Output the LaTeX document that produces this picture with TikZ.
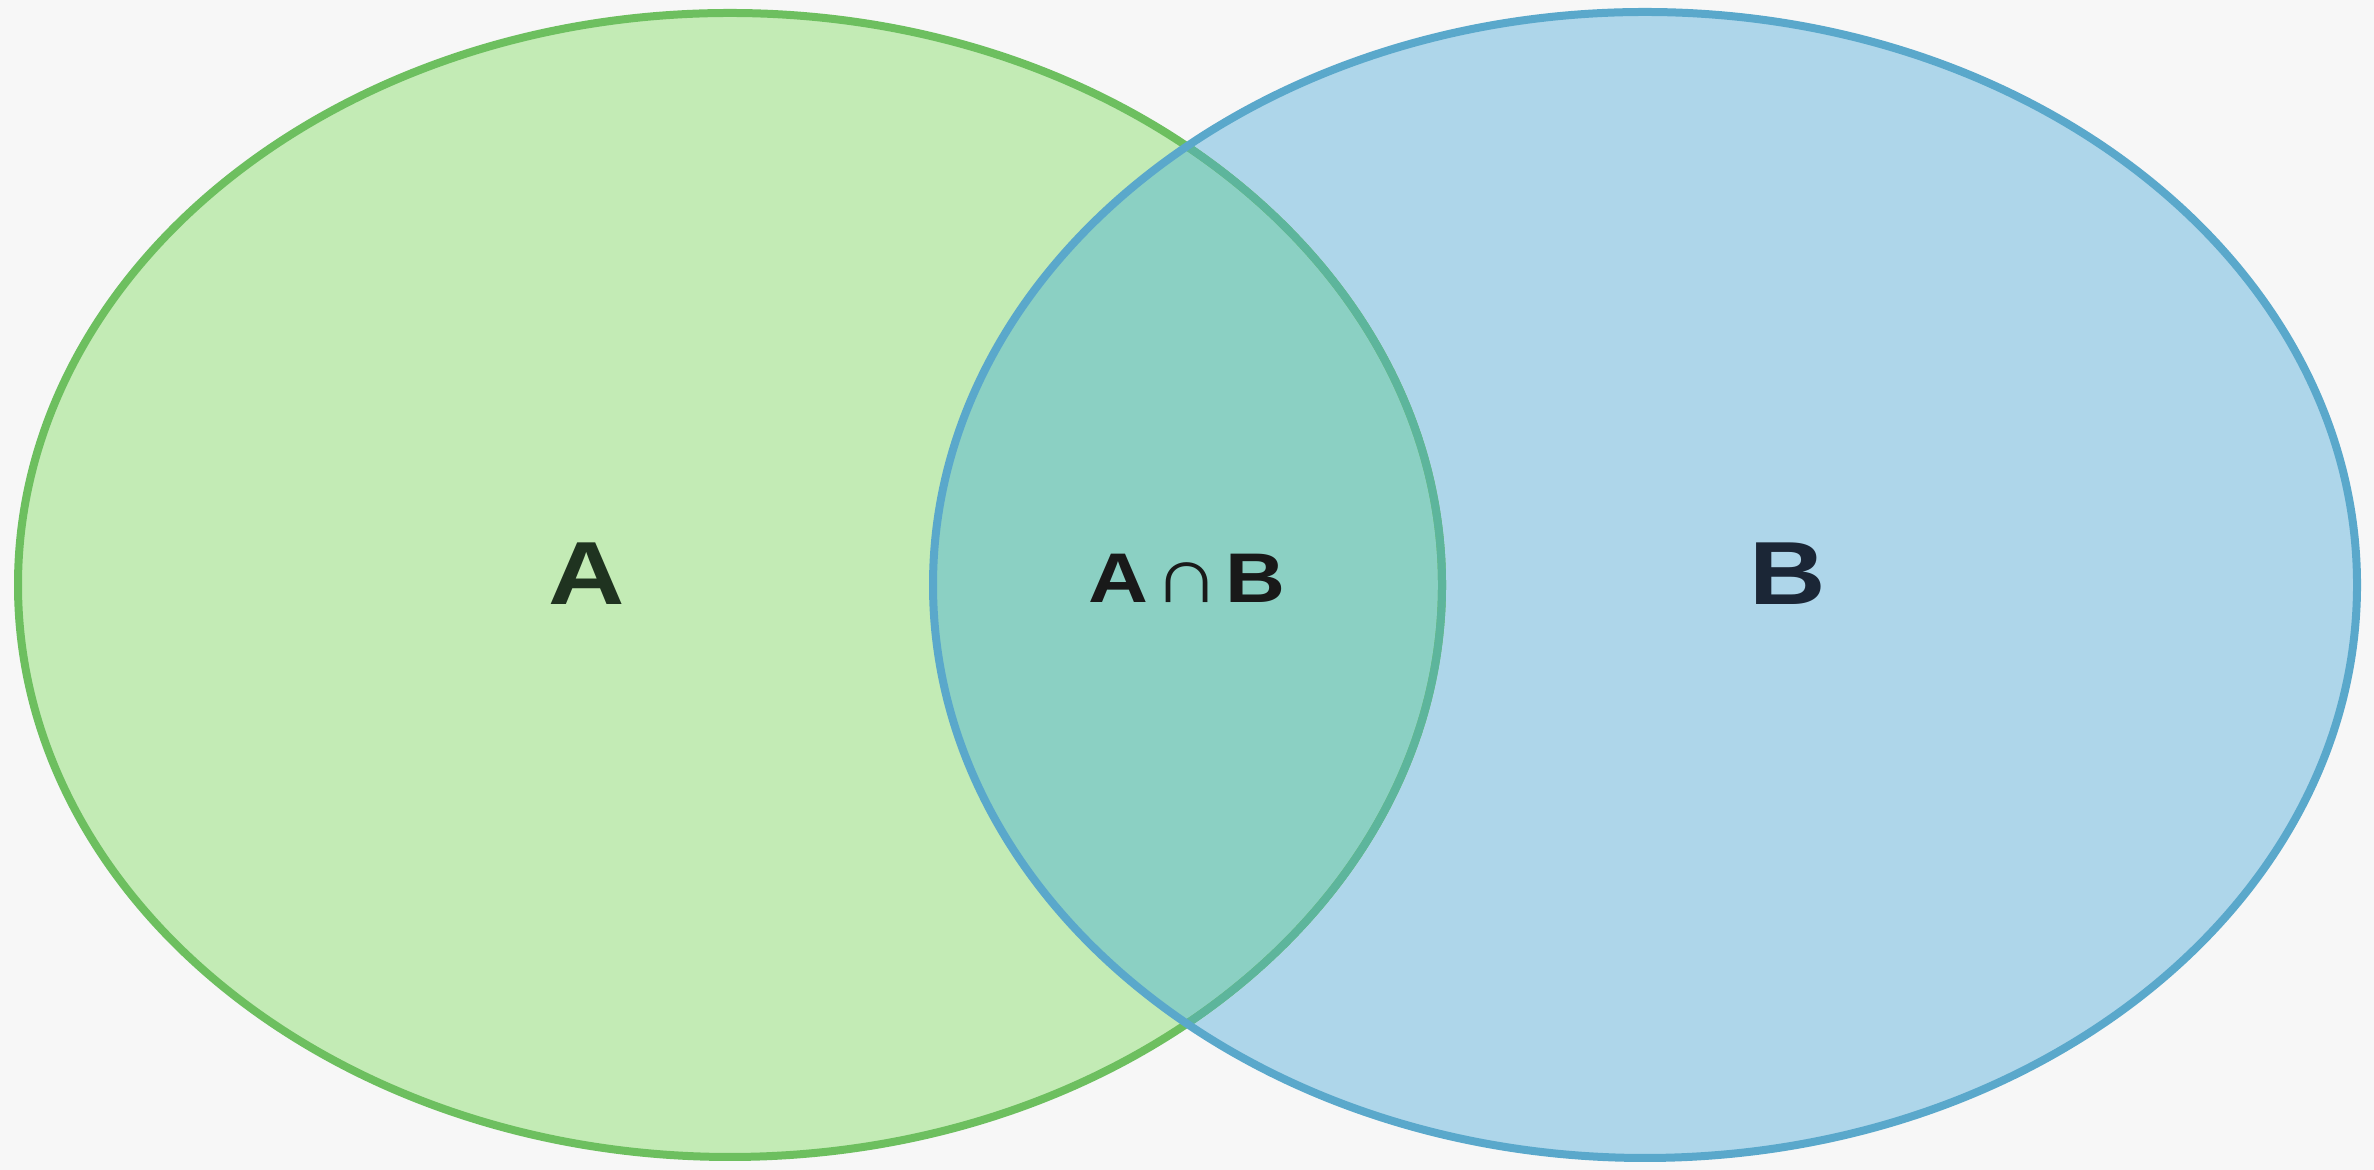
\documentclass[tikz,border=0pt]{standalone}
\usepackage{fontspec}
\setmainfont{Liberation Sans}
\usepackage{tikz}
\usetikzlibrary{positioning}

\definecolor{bgcol}{HTML}{F7F7F7}
\definecolor{setAfill}{HTML}{C3EBB5}
\definecolor{setAline}{HTML}{6DBF5F}
\definecolor{setBfill}{HTML}{AED6EA}
\definecolor{setBline}{HTML}{5AA8CB}
\definecolor{capfill}{HTML}{8BD0C3}
\definecolor{capline}{HTML}{5DB59C}
\definecolor{txtA}{HTML}{1F3320}
\definecolor{txtB}{HTML}{1B2636}

\begin{document}
\begin{tikzpicture}[x=1cm, y=1cm]
\tikzstyle{every node}=[inner sep=0pt, font=\bfseries, xscale=1.18]
\tikzstyle{setline}=[line width=0.08cm]
\useasboundingbox (0,0) rectangle (23.74,11.70);
\fill[bgcol] (0,0) rectangle (23.74,11.70);
% the two sets
\fill[setAfill] (7.30,5.85) ellipse [x radius=7.12, y radius=5.72];
\fill[setBfill] (16.45,5.85) ellipse [x radius=7.12, y radius=5.73];
\begin{scope}
  \clip (7.30,5.85) ellipse [x radius=7.12, y radius=5.72];
  \fill[capfill] (16.45,5.85) ellipse [x radius=7.12, y radius=5.73];
\end{scope}
\draw[setline, setAline] (7.30,5.85) ellipse [x radius=7.12, y radius=5.72];
\begin{scope}
  \clip (16.45,5.85) ellipse [x radius=7.12, y radius=5.73];
  \draw[setline, capline] (7.30,5.85) ellipse [x radius=7.12, y radius=5.72];
\end{scope}
\draw[setline, setBline] (16.45,5.85) ellipse [x radius=7.12, y radius=5.73];
% labels
\path (5.87,5.96) node[txtA, font=\bfseries\fontsize{25.5}{30}\selectfont] (labA) {A};
\node[txtB, font=\bfseries\fontsize{25.5}{30}\selectfont] (labB) at (17.88,5.96) {B};
\node[black!90, font=\bfseries\fontsize{20}{22}\selectfont] (labAB) at (11.87,5.92)
  {A\hspace{0.04cm}{\mdseries\fontsize{22.5}{22}\selectfont ∩}\hspace{0.04cm}B};
\end{tikzpicture}
\end{document}
